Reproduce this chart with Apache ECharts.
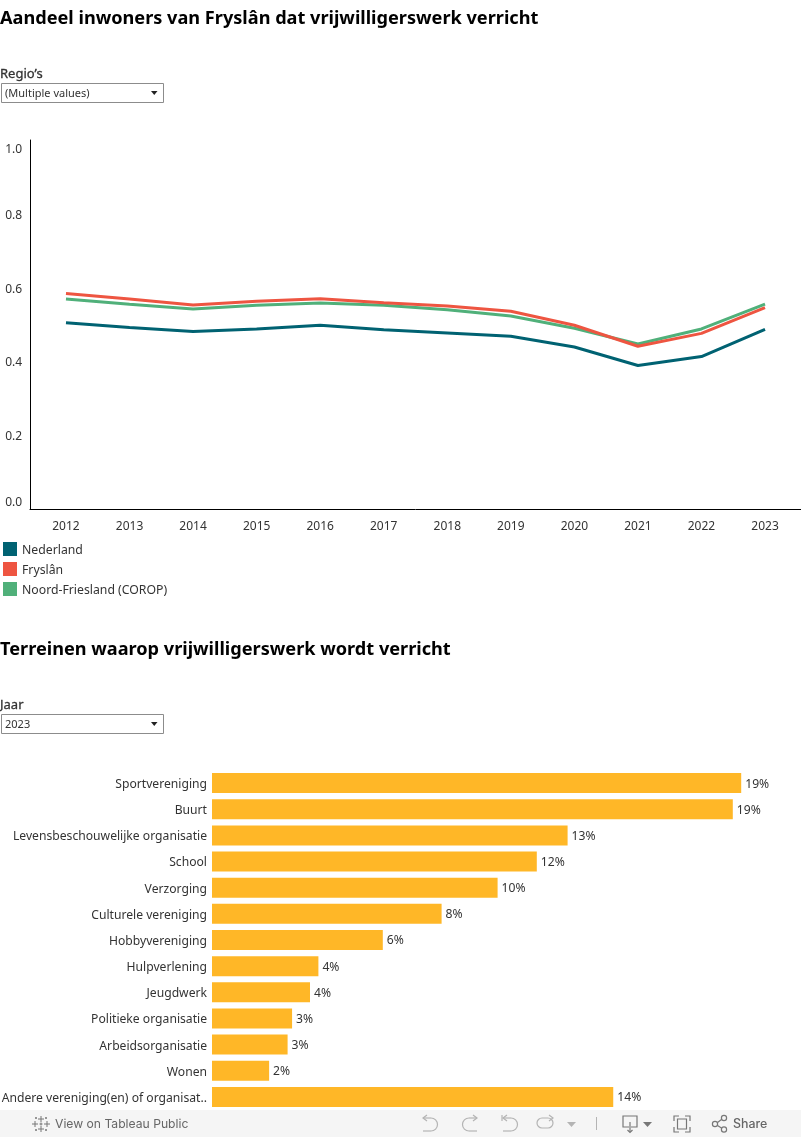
<!DOCTYPE html>
<html>
<head>
<meta charset="utf-8">
<style>html,body{margin:0;padding:0;background:#fff}#c{width:801px;height:1137px}</style>
<script src="https://cdn.jsdelivr.net/npm/echarts@6/dist/echarts.min.js"></script>
</head>
<body>
<div id="c"></div>
<script>
const years = ['2012','2013','2014','2015','2016','2017','2018','2019','2020','2021','2022','2023'];
const nederland = [0.505,0.492,0.481,0.488,0.498,0.486,0.477,0.468,0.439,0.389,0.413,0.487];
const fryslan = [0.584,0.569,0.553,0.563,0.570,0.559,0.550,0.536,0.498,0.441,0.476,0.546];
const noordFriesland = [0.569,0.555,0.542,0.552,0.558,0.552,0.540,0.523,0.490,0.447,0.488,0.555];
const terreinen = ['Sportvereniging','Buurt','Levensbeschouwelijke organisatie','School','Verzorging','Culturele vereniging','Hobbyvereniging','Hulpverlening','Jeugdwerk','Politieke organisatie','Arbeidsorganisatie','Wonen','Andere vereniging(en) of organisat..'];
const aandeel = [18.9,18.6,12.7,11.6,10.2,8.2,6.1,3.8,3.5,2.86,2.7,2.04,14.33];

const FONT = '"Noto Sans", sans-serif';
const TXT = '#333';
const ICON = '#b4b4b4';
const ICON2 = '#777';
const TEAL = '#006272', RED = '#EE5541', GREEN = '#50B07A';

function label(text, x, y, o) {
  return {type:'text', silent:true, x, y, style:Object.assign({text, fontFamily:FONT, fontSize:11, fill:TXT, textVerticalAlign:'middle'}, o||{})};
}
function dropdown(y, text) {
  return [
    {type:'rect', silent:true, shape:{x:1.5,y:y+0.5,width:162,height:19}, style:{fill:'#fff',stroke:'#8c8c8c',lineWidth:1}},
    label(text, 5, y+10.5, {fontSize:11}),
    {type:'polygon', silent:true, shape:{points:[[151,y+8],[157.5,y+8],[154.25,y+12]]}, style:{fill:'#222'}}
  ];
}
function poly(points, color, lw) {
  return {type:'polyline', silent:true, shape:{points}, style:{fill:'none', stroke:color, lineWidth:lw||1.2}};
}
function arc(cx, cy, r, a0, a1, color) {
  return {type:'arc', silent:true, shape:{cx, cy, r, startAngle:a0, endAngle:a1, clockwise:true}, style:{fill:'none', stroke:color, lineWidth:1.2}};
}
const tri = (x,y,c)=>({type:'polygon', silent:true, shape:{points:[[x,y],[x+9,y],[x+4.5,y+5]]}, style:{fill:c}});
const cross = (x,y,s)=>[poly([[x,y-s],[x,y+s]],'#777',1), poly([[x-s,y],[x+s,y]],'#777',1)];
const HP = Math.PI/2;
const iconGraphics = [
  {type:'rect', silent:true, shape:{x:0,y:1110,width:801,height:27}, style:{fill:'#f5f5f5'}},
  // Tableau logo
  ...cross(41,1119,3), ...cross(41,1129,3), ...cross(35,1124,3), ...cross(47,1124,3),
  ...cross(36,1118,1), ...cross(46,1118,1), ...cross(36,1130,1), ...cross(46,1130,1), ...cross(41,1124,1.5),
  label('View on Tableau Public', 55, 1124, {fontFamily:'Inter, "Noto Sans", sans-serif', fontSize:12.15, fill:'#666'}),
  // undo
  poly([[427,1115],[423,1118],[427,1121]],ICON), poly([[423,1118],[431,1118]],ICON), arc(431,1124.5,6.5,-HP,HP,ICON), poly([[431,1131],[423,1131]],ICON),
  // redo
  poly([[473,1115],[477,1118],[473,1121]],ICON), poly([[477,1118],[469,1118]],ICON), arc(469,1124.5,6.5,HP,-HP,ICON), poly([[469,1131],[477,1131]],ICON),
  // revert
  poly([[502,1115],[502,1121]],ICON), poly([[507,1115],[503,1118],[507,1121]],ICON), poly([[503,1118],[511,1118]],ICON), arc(511,1124.5,6.5,-HP,HP,ICON), poly([[511,1131],[503,1131]],ICON),
  // refresh
  poly([[549,1115],[553,1118],[549,1121]],ICON),
  {type:'rect', silent:true, shape:{x:537,y:1118,width:16,height:10,r:5}, style:{fill:'none',stroke:ICON,lineWidth:1.2}},
  tri(567,1122,ICON),
  poly([[596.5,1117],[596.5,1130]],ICON,1),
  // download
  poly([[629,1127],[623,1127],[623,1116],[637,1116],[637,1127],[631,1127]],ICON2),
  poly([[630,1122],[630,1132]],ICON2), poly([[627.5,1130],[630,1132.5],[632.5,1130]],ICON2),
  tri(643,1122,ICON2),
  // fullscreen
  poly([[674,1121],[674,1116],[679,1116]],ICON2), poly([[685,1116],[690,1116],[690,1121]],ICON2),
  poly([[690,1127],[690,1132],[685,1132]],ICON2), poly([[679,1132],[674,1132],[674,1127]],ICON2),
  {type:'rect', silent:true, shape:{x:677.5,y:1119,width:9,height:10}, style:{fill:'none',stroke:ICON2,lineWidth:1.2}},
  // share
  {type:'circle', silent:true, shape:{cx:715,cy:1124,r:2.6}, style:{fill:'none',stroke:ICON2,lineWidth:1.2}},
  {type:'circle', silent:true, shape:{cx:724,cy:1118,r:2.6}, style:{fill:'none',stroke:ICON2,lineWidth:1.2}},
  {type:'circle', silent:true, shape:{cx:724,cy:1129.5,r:2.6}, style:{fill:'none',stroke:ICON2,lineWidth:1.2}},
  poly([[717.5,1122.5],[721.5,1119.5]],ICON2), poly([[717.5,1125.5],[721.5,1128]],ICON2),
  label('Share', 733, 1124, {fontFamily:'Inter, "Noto Sans", sans-serif', fontSize:12.4, fontWeight:500, fill:'#666'})
];

const rt = h => ({fontFamily:FONT, fontSize:12, color:TXT, lineHeight:h});
const chart = echarts.init(document.getElementById('c'), null, {renderer:'canvas'});
chart.setOption({
  animation:false,
  textStyle:{fontFamily:FONT},
  title:[
    {text:'Aandeel inwoners van Fryslân dat vrijwilligerswerk verricht', left:0, top:5, padding:[5,0,0,0], textStyle:{fontFamily:FONT,fontSize:18.15,fontWeight:'bold',color:'#000'}},
    {text:'Terreinen waarop vrijwilligerswerk wordt verricht', left:0, top:636, padding:[5,0,0,0], textStyle:{fontFamily:FONT,fontSize:18.15,fontWeight:'bold',color:'#000'}}
  ],
  legend:{
    data:['Nederland','Fryslân','Noord-Friesland (COROP)'],
    orient:'vertical', left:3, top:541.5, itemWidth:14, itemHeight:14, itemGap:5,
    icon:'rect', selectedMode:false, padding:0,
    formatter:n=>'{a|'+n+'}',
    textStyle:{fontFamily:FONT,fontSize:12.25,color:TXT,
      rich:{a:{fontFamily:FONT,fontSize:12.25,color:TXT,lineHeight:14,padding:[3,0,0,0]}}}
  },
  grid:[
    {left:34.2, right:4.2, top:140, height:369, outerBoundsMode:'none'},
    {left:212, top:770, width:588, height:340, outerBoundsMode:'none'},
    {left:30, right:0, top:140, height:369, outerBoundsMode:'none'}
  ],
  xAxis:[
    {type:'category', gridIndex:0, data:years, boundaryGap:true,
     axisLine:{show:false}, axisTick:{show:false}, splitLine:{show:false},
     axisLabel:{interval:0, color:TXT, fontFamily:FONT, fontSize:12, margin:12}},
    {type:'value', gridIndex:1, min:0, max:21, show:false},
    {type:'category', gridIndex:2, data:[''], axisTick:{show:false}, axisLabel:{show:false},
     axisLine:{show:true, lineStyle:{color:'#000',width:1}}}
  ],
  yAxis:[
    {type:'value', gridIndex:0, min:0, max:1, interval:0.2, offset:4,
     axisLine:{show:true, lineStyle:{color:'#000',width:1}}, axisTick:{show:false}, splitLine:{show:false},
     axisLabel:{color:TXT, fontFamily:FONT, fontSize:12, margin:8, verticalAlign:'top',
       verticalAlignMinLabel:'bottom', verticalAlignMaxLabel:'top',
       formatter:v=>{
         const s=v.toFixed(1);
         return (v===1?'{t|':v===0?'{b|':'{m|')+s+'}';
       },
       rich:{t:rt(20), b:rt(12), m:rt(3)}}},
    {type:'category', gridIndex:1, data:terreinen, inverse:true,
     axisLine:{show:false}, axisTick:{show:false}, splitLine:{show:false},
     axisLabel:{interval:0, color:TXT, fontFamily:FONT, fontSize:12.15, margin:5, verticalAlign:'top', lineHeight:3}},
    {type:'value', gridIndex:2, show:false, min:0, max:1}
  ],
  series:[
    {name:'Nederland', type:'line', xAxisIndex:0, yAxisIndex:0, data:nederland, symbol:'none', color:TEAL, lineStyle:{width:3}, z:3},
    {name:'Noord-Friesland (COROP)', type:'line', xAxisIndex:0, yAxisIndex:0, data:noordFriesland, symbol:'none', color:GREEN, lineStyle:{width:3}, z:3},
    {name:'Fryslân', type:'line', xAxisIndex:0, yAxisIndex:0, data:fryslan, symbol:'none', color:RED, lineStyle:{width:3}, z:4},
    {name:'Aandeel', type:'bar', xAxisIndex:1, yAxisIndex:1, data:aandeel, barWidth:20,
     itemStyle:{color:'#FFB727'},
     label:{show:true, position:'right', distance:4, offset:[0,1], color:TXT, fontFamily:FONT, fontSize:12.15,
       formatter:p=>Math.round(p.value)+'%'}}
  ],
  graphic:{elements:[
    label('Regio\u2019s', 0, 74, {fontSize:13, stroke:'#333', lineWidth:0.3}),
    ...dropdown(83,'(Multiple values)'),
    label('Jaar', 0, 705, {fontSize:13, stroke:'#333', lineWidth:0.3}),
    ...dropdown(714,'2023'),
    ...iconGraphics
  ]}
});
</script>
</body>
</html>
